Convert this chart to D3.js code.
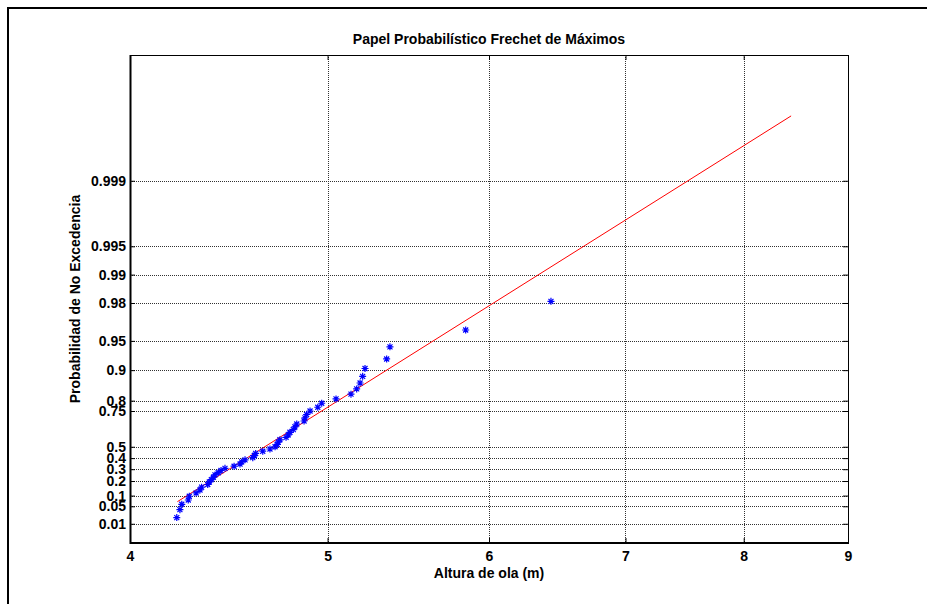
<!DOCTYPE html>
<html>
<head>
<meta charset="utf-8">
<script src="https://cdn.jsdelivr.net/npm/d3@7"></script>
<style>
html,body{margin:0;padding:0;background:#fff;}
svg{display:block;}
text{font-family:"Liberation Sans",Arial,Helvetica,sans-serif;font-weight:bold;}
</style>
</head>
<body>
<script>
// ---- data ----
const title = "Papel Probabilístico Frechet de Máximos";
const xLabel = "Altura de ola (m)";
const yLabel = "Probabilidad de No Excedencia";
const xTicks = [4, 5, 6, 7, 8, 9];
const yTicks = [0.01, 0.05, 0.1, 0.2, 0.3, 0.4, 0.5, 0.75, 0.8, 0.9, 0.95, 0.98, 0.99, 0.995, 0.999];
const yTickLabels = ["0.01","0.05","0.1","0.2","0.3","0.4","0.5","0.75","0.8","0.9","0.95","0.98","0.99","0.995","0.999"];
// observed wave heights (sorted) and their plotting positions
const heights = [4.217,4.232,4.241,4.272,4.277,4.310,4.329,4.337,4.367,4.375,
  4.385,4.395,4.403,4.419,4.433,4.453,4.499,4.529,4.538,4.555,
  4.595,4.603,4.610,4.647,4.685,4.712,4.724,4.729,4.738,4.771,
  4.783,4.792,4.810,4.819,4.829,4.869,4.874,4.883,4.902,4.945,
  4.967,5.048,5.134,5.167,5.187,5.202,5.216,5.345,5.365,5.844,6.435];
const probs = [0.0192,0.0385,0.0577,0.0769,0.0962,0.1154,0.1346,0.1538,0.1731,0.1923,
  0.2115,0.2308,0.2500,0.2692,0.2885,0.3077,0.3269,0.3462,0.3654,0.3846,
  0.4038,0.4231,0.4423,0.4615,0.4808,0.5000,0.5192,0.5385,0.5577,0.5769,
  0.5962,0.6154,0.6346,0.6538,0.6731,0.6923,0.7115,0.7308,0.7500,0.7692,
  0.7885,0.8077,0.8269,0.8462,0.8654,0.8846,0.9038,0.9231,0.9423,0.9615,0.9808];
// fitted Frechet line (end points)
const fitX = [4.22, 8.44];
const fitP = [0.0689, 0.999797];
const yDomain = [-2, 10]; // reduced variate -ln(-ln p)

// ---- layout ----
const W = 927, H = 604;
const m = {left:130, right:848, top:55, bottom:543};
const FONT = '"Liberation Sans",Arial,Helvetica,sans-serif';

const svg = d3.select("body").append("svg").attr("width", W).attr("height", H);

// figure frame (top & left)
svg.append("path").attr("d", `M8,${H} L8,8 L${W},8`).attr("fill","none")
  .attr("stroke","#000").attr("stroke-width",2);

const reduced = p => -Math.log(-Math.log(p));
const x = d3.scaleLog().domain([4, 9]).range([m.left, m.right]);
const yv = d3.scaleLinear().domain(yDomain).range([m.bottom, m.top]);
const y = p => yv(reduced(p));

// grid
const grid = svg.append("g").attr("stroke","#000").attr("stroke-width",1)
  .attr("stroke-dasharray","1,1").attr("opacity",0.8);
grid.selectAll("line.v").data(xTicks.slice(1, -1)).join("line")
  .attr("x1", d => Math.round(x(d)) + 0.5).attr("x2", d => Math.round(x(d)) + 0.5)
  .attr("y1", m.top).attr("y2", m.bottom);
grid.selectAll("line.h").data(yTicks).join("line")
  .attr("y1", d => Math.round(y(d)) + 0.5).attr("y2", d => Math.round(y(d)) + 0.5)
  .attr("x1", m.left).attr("x2", m.right);

// axes (ticks inside)
const tickLen = 5;
const xAxisB = d3.axisBottom(x).tickValues(xTicks).tickFormat(d3.format("d"))
  .tickSizeInner(-tickLen).tickSizeOuter(0).tickPadding(8);
const gxb = svg.append("g").attr("transform", `translate(0,${m.bottom})`).call(xAxisB);
gxb.select(".domain").remove();
gxb.selectAll("text").attr("font-size", 14).attr("fill","#000")
  .attr("font-family", FONT).attr("font-weight","bold");
const xAxisT = d3.axisTop(x).tickValues(xTicks).tickFormat("").tickSizeInner(-tickLen).tickSizeOuter(0);
const gxt = svg.append("g").attr("transform", `translate(0,${m.top})`).call(xAxisT);
gxt.select(".domain").remove();

const yAxisL = d3.axisLeft(yv).tickValues(yTicks.map(reduced))
  .tickFormat((d, i) => yTickLabels[i]).tickSizeInner(-tickLen).tickSizeOuter(0).tickPadding(4);
const gyl = svg.append("g").attr("transform", `translate(${m.left},0)`).call(yAxisL);
gyl.select(".domain").remove();
gyl.selectAll("text").attr("font-size", 14).attr("fill","#000")
  .attr("font-family", FONT).attr("font-weight","bold");
const yAxisR = d3.axisRight(yv).tickValues(yTicks.map(reduced))
  .tickFormat("").tickSizeInner(-tickLen).tickSizeOuter(0);
const gyr = svg.append("g").attr("transform", `translate(${m.right},0)`).call(yAxisR);
gyr.select(".domain").remove();

// box: top/right thin, left/bottom heavier
svg.append("path").attr("d", `M${m.left},${m.top + 0.5}H${m.right + 0.5}V${m.bottom}`)
  .attr("fill","none").attr("stroke","#000").attr("stroke-width",1);
svg.append("path").attr("d", `M${m.left + 0.5},${m.top}V${m.bottom}H${m.right + 1}`)
  .attr("fill","none").attr("stroke","#000").attr("stroke-width",2);

// fitted line
const fit = fitX.map((d, i) => [d, fitP[i]]);
svg.append("path").datum(fit)
  .attr("d", d3.line().x(d => x(d[0])).y(d => y(d[1])))
  .attr("fill","none").attr("stroke","#ff0000").attr("stroke-width",1);

// data points (asterisk markers)
const pts = heights.map((h, i) => [h, probs[i]]);
const a = 3.5, b = 2.5;
const star = `M${-a},0L${a},0M0,${-a}L0,${a}M${-b},${-b}L${b},${b}M${-b},${b}L${b},${-b}`;
svg.append("g").selectAll("path").data(pts).join("path")
  .attr("transform", d => `translate(${x(d[0])},${y(d[1])})`)
  .attr("d", star).attr("fill","none").attr("stroke","#0000ff").attr("stroke-width",1.2);

// titles
svg.append("text").attr("x", (m.left + m.right) / 2).attr("y", 44)
  .attr("text-anchor","middle").attr("font-size", 14).text(title);
svg.append("text").attr("x", (m.left + m.right) / 2).attr("y", 578)
  .attr("text-anchor","middle").attr("font-size", 14).text(xLabel);
svg.append("text").attr("transform", `translate(80,${(m.top + m.bottom) / 2}) rotate(-90)`)
  .attr("text-anchor","middle").attr("font-size", 14).text(yLabel);
</script>
</body>
</html>
